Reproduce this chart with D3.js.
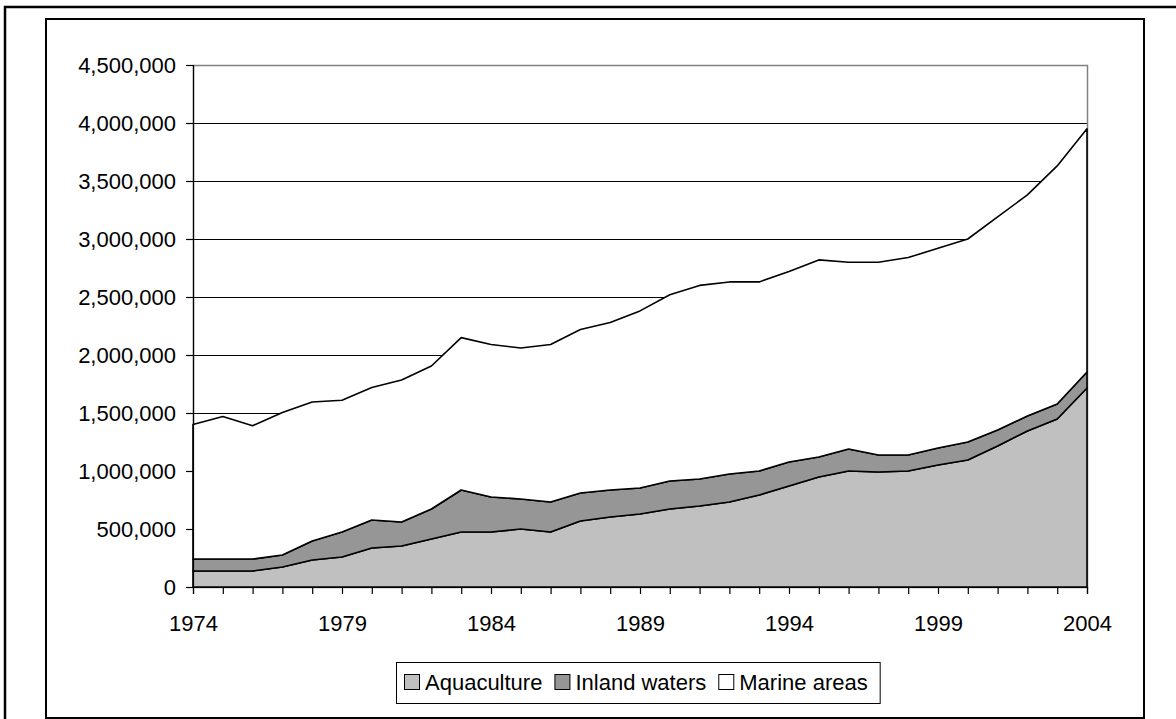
<!DOCTYPE html>
<html>
<head>
<meta charset="utf-8">
<script src="https://cdn.jsdelivr.net/npm/d3@7"></script>
<style>
  body { margin: 0; background: #fff; }
  svg text { font-family: "Liberation Sans", Arial, sans-serif; fill: #000; }
</style>
</head>
<body>
<svg id="chart" width="1176" height="719"></svg>
<script>
// data
var years = [1974, 1975, 1976, 1977, 1978, 1979, 1980, 1981, 1982, 1983, 1984, 1985, 1986, 1987, 1988,
             1989, 1990, 1991, 1992, 1993, 1994, 1995, 1996, 1997, 1998, 1999, 2000, 2001, 2002, 2003, 2004];
var aquaculture = [138000, 138000, 138000, 172000, 233000, 259000, 336000, 353000, 414000, 474000, 474000,
                   500000, 474000, 569000, 603000, 629000, 672000, 698000, 733000, 793000, 871000, 948000,
                   1000000, 991000, 1000000, 1052000, 1095000, 1216000, 1345000, 1448000, 1716000];
var inlandWaters = [103000, 103000, 103000, 104000, 164000, 215000, 242000, 207000, 258000, 362000, 302000,
                    259000, 259000, 241000, 233000, 224000, 242000, 233000, 241000, 207000, 207000, 173000,
                    190000, 147000, 138000, 146000, 155000, 137000, 129000, 130000, 137000];
var marineAreas = [1159000, 1229000, 1149000, 1229000, 1198000, 1136000, 1142000, 1225000, 1233000, 1314000,
                   1314000, 1301000, 1357000, 1410000, 1444000, 1527000, 1606000, 1669000, 1656000, 1630000,
                   1642000, 1699000, 1610000, 1662000, 1702000, 1722000, 1750000, 1837000, 1906000, 2052000, 2097000];
var seriesNames = ["Aquaculture", "Inland waters", "Marine areas"];
var seriesColors = ["#c0c0c0", "#969696", "#ffffff"];
var yTicks = [0, 500000, 1000000, 1500000, 2000000, 2500000, 3000000, 3500000, 4000000, 4500000];
var xLabelYears = [1974, 1979, 1984, 1989, 1994, 1999, 2004];

var table = years.map(function (yr, i) {
  return {year: yr, "Aquaculture": aquaculture[i], "Inland waters": inlandWaters[i], "Marine areas": marineAreas[i]};
});

var svg = d3.select("#chart");

// frames
svg.append("rect")
    .attr("x", 5).attr("y", 7).attr("width", 1200).attr("height", 760)
    .attr("fill", "none").attr("stroke", "#000").attr("stroke-width", 2.5);
svg.append("rect")
    .attr("x", 46).attr("y", 19).attr("width", 1098).attr("height", 699)
    .attr("fill", "#fff").attr("stroke", "#000").attr("stroke-width", 2);

var plot = {left: 193, right: 1087, top: 65, bottom: 587};

var x = d3.scaleLinear()
    .domain([years[0], years[years.length - 1]])
    .range([plot.left, plot.right]);
var y = d3.scaleLinear()
    .domain([0, 4500000])
    .range([plot.bottom, plot.top]);

// gridlines
svg.append("g")
    .selectAll("line")
    .data(yTicks.filter(function (d) { return d > 0; }))
    .enter().append("line")
    .attr("x1", plot.left).attr("x2", plot.right)
    .attr("y1", function (d) { return Math.round(y(d)) + 0.5; })
    .attr("y2", function (d) { return Math.round(y(d)) + 0.5; })
    .attr("stroke", "#000").attr("stroke-width", 1);

// plot area border
svg.append("rect")
    .attr("x", plot.left + 0.5).attr("y", Math.round(y(4500000)) + 0.5)
    .attr("width", plot.right - plot.left).attr("height", plot.bottom - Math.round(y(4500000)))
    .attr("fill", "none").attr("stroke", "#808080").attr("stroke-width", 1.5);

var stacked = d3.stack().keys(seriesNames)(table);

var area = d3.area()
    .x(function (d) { return x(d.data.year); })
    .y0(function (d) { return y(d[0]); })
    .y1(function (d) { return y(d[1]); });

svg.append("g")
    .selectAll("path")
    .data(stacked)
    .enter().append("path")
    .attr("d", area)
    .attr("fill", function (d, i) { return seriesColors[i]; })
    .attr("stroke", "#000")
    .attr("stroke-width", 1.6)
    .attr("stroke-linejoin", "round");

// axes
var yAxis = svg.append("g")
    .attr("transform", "translate(" + plot.left + ",0)")
    .call(d3.axisLeft(y).tickValues(yTicks).tickSize(7).tickPadding(10).tickFormat(d3.format(",")));
var xAxis = svg.append("g")
    .attr("transform", "translate(0," + plot.bottom + ")")
    .call(d3.axisBottom(x).tickValues(years).tickSize(7).tickPadding(21)
      .tickFormat(function (d) { return xLabelYears.indexOf(d) >= 0 ? d : ""; }));
[yAxis, xAxis].forEach(function (g) {
  g.select(".domain").attr("stroke", "#000").attr("stroke-width", 1.2);
  g.selectAll(".tick line").attr("stroke", "#000").attr("stroke-width", 1.2);
  g.selectAll("text").attr("font-size", 22).attr("font-family", "'Liberation Sans', Arial, sans-serif").attr("fill", "#000");
});

// legend
var legend = svg.append("g");
var legendBox = legend.append("rect")
    .attr("x", 396.5).attr("y", 662.5).attr("height", 41)
    .attr("fill", "#fff").attr("stroke", "#000").attr("stroke-width", 1);
var lx = 404;
seriesNames.forEach(function (name, i) {
  legend.append("rect")
      .attr("x", lx + 0.5).attr("y", 674.5).attr("width", 15).attr("height", 15)
      .attr("fill", seriesColors[i]).attr("stroke", "#000").attr("stroke-width", 1);
  var t = legend.append("text")
      .attr("x", lx + 21).attr("y", 690)
      .attr("font-size", 22)
      .text(name);
  lx = lx + 21 + t.node().getComputedTextLength() + 12;
});
legendBox.attr("width", lx - 12 + 12 - 396);
</script>
</body>
</html>
